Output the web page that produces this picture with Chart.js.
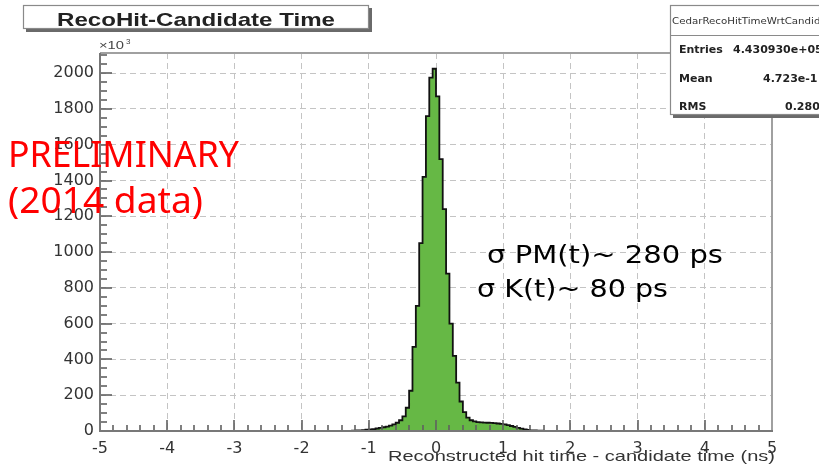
<!DOCTYPE html>
<html>
<head>
<meta charset="utf-8">
<script src="https://cdn.jsdelivr.net/npm/chart.js@4.4.1/dist/chart.umd.min.js"></script>
<style>
  html, body { margin: 0; padding: 0; background: #fff; }
  #c { display: block; }
</style>
</head>
<body>
<canvas id="c" width="819" height="464"></canvas>
<script>
// bin centres in ns (bin width 0.05) and counts in units of 10^3
const binCenters = [
  -1.375, -1.325, -1.275, -1.225, -1.175, -1.125, -1.075, -1.025, -0.975, -0.925,
  -0.875, -0.825, -0.775, -0.725, -0.675, -0.625, -0.575, -0.525, -0.475, -0.425,
  -0.375, -0.325, -0.275, -0.225, -0.175, -0.125, -0.075, -0.025,
  0.025, 0.075, 0.125, 0.175, 0.225, 0.275, 0.325, 0.375, 0.425, 0.475,
  0.525, 0.575, 0.625, 0.675, 0.725, 0.775, 0.825, 0.875, 0.925, 0.975,
  1.025, 1.075, 1.125, 1.175, 1.225, 1.275, 1.325, 1.375, 1.425, 1.475,
  1.525, 1.575, 1.625, 1.675, 1.725, 1.775
];
const counts = [
  0, 1, 1, 2, 3, 4, 5, 7, 9, 11,
  14, 17, 21, 25, 30, 37, 46, 60, 82, 130,
  225, 470, 700, 1050, 1420, 1760, 1975, 2025,
  1870, 1520, 1240, 880, 600, 420, 270, 165, 105, 75,
  60, 54, 50, 48, 47, 46, 45, 44, 42, 40,
  37, 33, 28, 23, 18, 13, 9, 6, 4, 3,
  2, 2, 1, 1, 1, 0
];
const xTicks = [-5, -4, -3, -2, -1, 0, 1, 2, 3, 4, 5];
const yTicks = [0, 200, 400, 600, 800, 1000, 1200, 1400, 1600, 1800, 2000];
const yMax = 2113;

const histTitle = 'RecoHit-Candidate Time';
const xTitle = 'Reconstructed hit time - candidate time (ns)';
const statsName = 'CedarRecoHitTimeWrtCandidate';
const statsLabels = ['Entries', 'Mean', 'RMS'];
const statsValues = ['4.430930e+05', '4.723e-1', '0.280'];

// draw text squeezed/stretched horizontally to a given width
function fitText(ctx, text, x, y, width, align) {
  const w = ctx.measureText(text).width;
  ctx.save();
  ctx.translate(x, y);
  ctx.scale(width / w, 1);
  ctx.textAlign = 'left';
  let off = 0;
  if (align === 'right') off = -w;
  if (align === 'center') off = -w / 2;
  ctx.fillText(text, off, 0);
  ctx.restore();
}

function line(ctx, x1, y1, x2, y2) {
  ctx.beginPath();
  ctx.moveTo(x1, y1);
  ctx.lineTo(x2, y2);
  ctx.stroke();
}

const rootStyle = {
  id: 'rootStyle',
  beforeDraw(chart) {
    const ctx = chart.ctx;
    ctx.save();
    ctx.fillStyle = '#fff';
    ctx.fillRect(0, 0, chart.width, chart.height);
    ctx.restore();
  },
  afterDatasetsDraw(chart) {
    const { ctx, chartArea: a, scales: { x, y } } = chart;
    ctx.save();
    // ticks drawn inside the frame, ROOT style
    ctx.strokeStyle = '#606060';
    ctx.lineWidth = 1.6;
    for (let v = 0; v <= 2100; v += 50) {
      const py = Math.round(y.getPixelForValue(v));
      line(ctx, a.left, py, a.left + (v % 200 === 0 ? 12 : 7), py);
    }
    for (let i = -25; i <= 25; i++) {
      const px = Math.round(x.getPixelForValue(i / 5));
      line(ctx, px, a.bottom, px, a.bottom - (i % 5 === 0 ? 11 : 6));
    }
    // frame
    ctx.lineWidth = 2;
    ctx.strokeStyle = '#a0a0a0';
    line(ctx, a.left, a.top, a.right, a.top);
    line(ctx, a.right, a.top, a.right, a.bottom);
    ctx.strokeStyle = '#787878';
    line(ctx, a.left, a.top, a.left, a.bottom + 1);
    line(ctx, a.left - 1, a.bottom, a.right + 1, a.bottom);
    ctx.restore();
  },
  afterDraw(chart) {
    const ctx = chart.ctx;
    ctx.save();
    ctx.textBaseline = 'alphabetic';

    // title box
    ctx.fillStyle = '#6a6a6a';
    ctx.fillRect(26, 8, 346, 24);
    ctx.fillStyle = '#fff';
    ctx.fillRect(23, 5, 346, 24);
    ctx.strokeStyle = '#8a8a8a';
    ctx.lineWidth = 1.2;
    ctx.strokeRect(23.5, 5.5, 345, 23);
    ctx.fillStyle = '#222';
    ctx.font = 'bold 19px "Liberation Sans"';
    fitText(ctx, histTitle, 196, 26, 278, 'center');

    // x10^3 multiplier
    ctx.fillStyle = '#444';
    ctx.font = '11px "Liberation Sans"';
    fitText(ctx, '\u00d710', 99, 49, 25, 'left');
    ctx.font = '8px "Liberation Sans"';
    ctx.fillText('3', 126, 44);

    // stats box
    ctx.fillStyle = '#6a6a6a';
    ctx.fillRect(673, 8, 160, 110);
    ctx.fillStyle = '#fff';
    ctx.fillRect(670, 5, 160, 110);
    ctx.strokeStyle = '#8a8a8a';
    ctx.lineWidth = 1.2;
    ctx.strokeRect(670.5, 5.5, 160, 109);
    line(ctx, 670, 35.5, 830, 35.5);
    ctx.fillStyle = '#333';
    ctx.font = '8px "DejaVu Sans"';
    fitText(ctx, statsName, 672, 24, 165, 'left');
    ctx.fillStyle = '#222';
    ctx.font = 'bold 11px "DejaVu Sans"';
    const rowsY = [53, 82, 110];
    const valX = [733, 763, 785];
    statsLabels.forEach((lab, i) => {
      ctx.fillText(lab, 679, rowsY[i]);
      ctx.fillText(statsValues[i], valX[i], rowsY[i]);
    });

    // annotations
    ctx.fillStyle = '#ff0000';
    ctx.font = '36px "Noto Sans"';
    fitText(ctx, 'PRELIMINARY', 8, 167, 231, 'left');
    fitText(ctx, '(2014 data)', 8, 213, 195, 'left');

    ctx.fillStyle = '#000';
    ctx.font = '25px "DejaVu Sans"';
    fitText(ctx, '\u03c3 PM(t)~ 280 ps', 487, 263, 236, 'left');
    fitText(ctx, '\u03c3 K(t)~ 80 ps', 477, 297, 191, 'left');

    // x axis title, right aligned at axis end
    ctx.fillStyle = '#333';
    ctx.font = '15px "Liberation Sans"';
    fitText(ctx, xTitle, 775, 461, 387, 'right');
    ctx.restore();
  }
};

const points = binCenters.map((c, i) => ({ x: c, y: counts[i] }));

new Chart(document.getElementById('c'), {
  type: 'line',
  data: {
    datasets: [{
      data: points,
      stepped: 'middle',
      borderColor: '#111',
      borderWidth: 1.8,
      backgroundColor: '#66b845',
      fill: 'origin',
      pointRadius: 0
    }]
  },
  options: {
    responsive: false,
    animation: false,
    devicePixelRatio: 1,
    layout: { padding: { top: 53, right: 47, left: 0, bottom: 0 } },
    plugins: { legend: { display: false }, tooltip: { enabled: false } },
    scales: {
      x: {
        type: 'linear',
        min: -5,
        max: 5,
        afterBuildTicks: s => { s.ticks = xTicks.map(v => ({ value: v })); },
        afterFit: s => { s.height = 33; },
        grid: { color: '#c4c4c4', lineWidth: 1, drawTicks: false },
        border: { display: false, dash: [6, 4] },
        ticks: {
          padding: 8,
          color: '#333',
          font: { family: 'DejaVu Sans', size: 16 },
          maxRotation: 0,
          callback: v => String(v)
        }
      },
      y: {
        min: 0,
        max: yMax,
        afterBuildTicks: s => { s.ticks = yTicks.map(v => ({ value: v })); },
        afterFit: s => { s.width = 100; },
        grid: { color: '#c4c4c4', lineWidth: 1, drawTicks: false },
        border: { display: false, dash: [6, 4] },
        ticks: {
          padding: 6,
          color: '#333',
          font: { family: 'DejaVu Sans', size: 16 },
          callback: v => String(v)
        }
      }
    }
  },
  plugins: [rootStyle]
});
</script>
</body>
</html>
